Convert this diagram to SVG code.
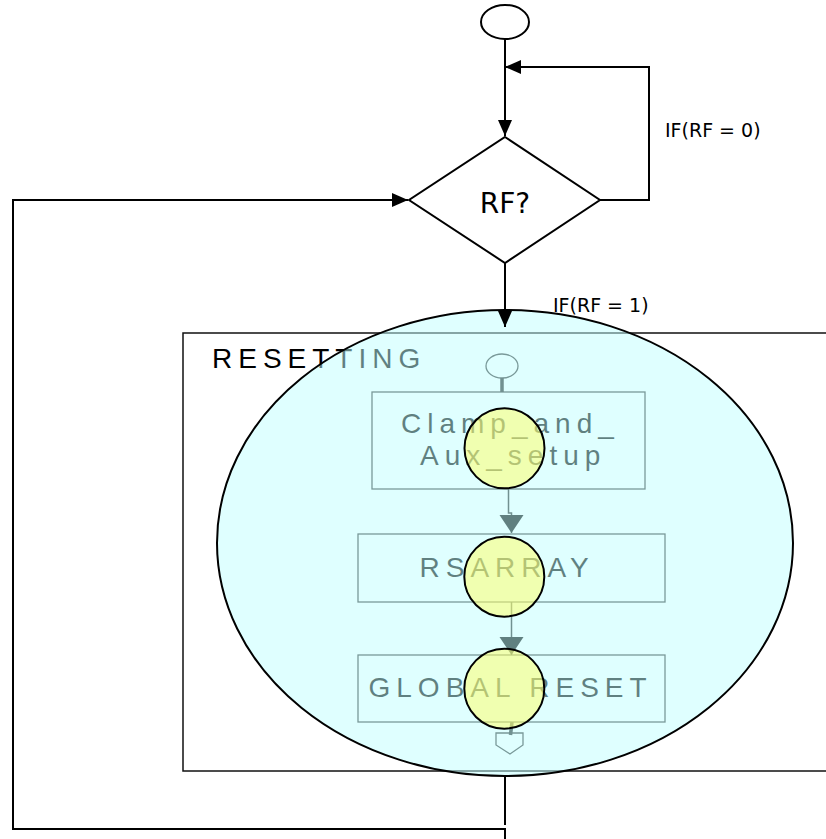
<svg xmlns="http://www.w3.org/2000/svg" width="826" height="839" viewBox="0 0 826 839">
  <style>
    .flow { fill: none; stroke: #000; stroke-width: 2; }
    .shape { fill: #fff; stroke: #000; stroke-width: 2; }
    .lbl { font-family: "DejaVu Sans", "Liberation Sans", sans-serif; fill: #000; }
    .spaced { font-family: "Liberation Sans", Arial, sans-serif; font-size: 28px; letter-spacing: 6px; fill: #000; }
    .inner-box { fill: none; stroke: #333; stroke-width: 1.3; }
    .inner-line { fill: none; stroke: #222; stroke-width: 1.5; }
    .marker-blk { fill: #000; }
  </style>
  <defs>
    <marker id="arrow" markerUnits="userSpaceOnUse" markerWidth="16" markerHeight="14" refX="16" refY="7" orient="auto" overflow="visible">
      <path d="M0,0 L16,7 L0,14 z" class="marker-blk"/>
    </marker>
    <marker id="arrow-big" markerUnits="userSpaceOnUse" markerWidth="18" markerHeight="24" refX="18" refY="12" orient="auto" overflow="visible">
      <path d="M0,0 L18,12 L0,24 z" fill="#000"/>
    </marker>
  </defs>

  <rect width="826" height="839" fill="#fff"/>

  <!-- RESETTING sub-process frame and its contents (drawn beneath the highlight) -->
  <g id="resetting">
    <rect x="183" y="333" width="660" height="438" fill="none" stroke="#111" stroke-width="1.5"/>
    <text x="212" y="368" class="spaced">RESETTING</text>

    <g id="inner-start">
      <ellipse cx="502" cy="366" rx="16" ry="12" fill="none" stroke="#333" stroke-width="1.3"/>
    </g>
    <g id="clamp-aux">
      <rect x="372" y="392" width="273" height="97" class="inner-box"/>
      <text x="401" y="433" class="spaced" letter-spacing="5.3">Clamp_and_</text>
      <text x="420" y="465" class="spaced" letter-spacing="5.1">Aux_setup</text>
    </g>
    <g id="rsarray">
      <rect x="358" y="534" width="307" height="68" class="inner-box"/>
      <text x="419.5" y="577" class="spaced" letter-spacing="7">RSARRAY</text>
    </g>
    <g id="global-reset">
      <rect x="358" y="655" width="307" height="67" class="inner-box"/>
      <text x="368.5" y="697" class="spaced">GLOBAL RESET</text>
    </g>
    <g id="inner-exit">
      <path d="M496,733 H523 V745 L510,754 L496,745 Z" fill="none" stroke="#333" stroke-width="1.3"/>
    </g>
    <g id="inner-connectors">
      <path d="M502,378 V392" fill="none" stroke="#222" stroke-width="3.5"/>
      <path d="M508.5,489 V513 H511.5 V533" class="inner-line" marker-end="url(#arrow-big)"/>
      <path d="M511.5,602 V655" class="inner-line" marker-end="url(#arrow-big)"/>
      <path d="M512,722 L510.5,735" fill="none" stroke="#222" stroke-width="3.5"/>
    </g>
  </g>

  <!-- translucent highlight over the sub-process -->
  <g id="highlight">
    <ellipse cx="505" cy="543" rx="288" ry="233" fill="#bfffff" fill-opacity="0.5" stroke="#000" stroke-width="2"/>
  </g>

  <!-- breakpoint markers -->
  <g id="marks">
    <circle cx="504.5" cy="448.3" r="40" fill="#ffff6a" fill-opacity="0.53" stroke="#000" stroke-width="2"/>
    <circle cx="504.3" cy="576.7" r="40" fill="#ffff6a" fill-opacity="0.53" stroke="#000" stroke-width="2"/>
    <circle cx="504.3" cy="688.7" r="40" fill="#ffff6a" fill-opacity="0.53" stroke="#000" stroke-width="2"/>
  </g>

  <g id="start">
    <ellipse cx="505" cy="22" rx="24" ry="17" class="shape"/>
  </g>

  <g id="rf-decision">
    <polygon points="505,137 600,200 505,263 409,200" class="shape"/>
    <text x="505" y="213" text-anchor="middle" class="lbl" font-size="28">RF?</text>
  </g>

  <g id="connectors">
    <path d="M505,39 V136" class="flow" marker-end="url(#arrow)"/>
    <path d="M600,200 H649 V67 H505" class="flow" marker-end="url(#arrow)"/>
    <path d="M505,263 V327" class="flow" marker-end="url(#arrow)"/>
    <path d="M505,776 V825" class="flow"/>
    <path d="M505,840 V829 H13 V200 H408" class="flow" marker-end="url(#arrow)"/>
    <text x="665" y="137" class="lbl" font-size="19">IF(RF = 0)</text>
    <text x="553" y="312" class="lbl" font-size="19">IF(RF = 1)</text>
  </g>
</svg>
